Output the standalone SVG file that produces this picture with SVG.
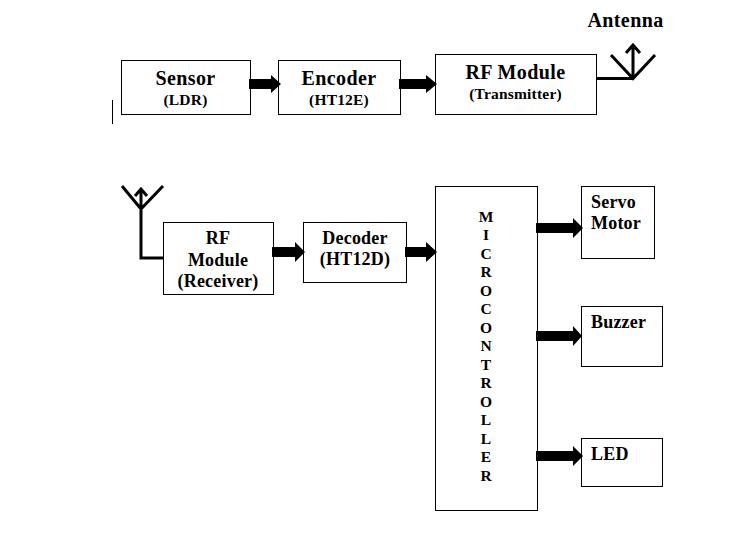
<svg xmlns="http://www.w3.org/2000/svg" width="736" height="544" viewBox="0 0 736 544">
<style>
rect{fill:#fff;stroke:#000;stroke-width:1}
text{font-family:"Liberation Serif","Times New Roman",serif;font-weight:bold;fill:#000;text-anchor:middle}
.a{font-size:20px;letter-spacing:.4px}
.b{font-size:15.500px;letter-spacing:.2px}
.c{font-size:18px;letter-spacing:.2px}
.m{font-size:15.500px}
.l{text-anchor:start}
.ant{fill:none;stroke:#000;stroke-width:3}
.ar{fill:#000;stroke:none}
</style>
<rect width="736" height="544" style="fill:#fff;stroke:none"/>
<g id="sensor"><rect x="121.500" y="60.500" width="129" height="54"/><text class="a" x="185.500" y="85">Sensor</text><text class="b" x="185.500" y="105">(LDR)</text></g>
<g id="encoder"><rect x="278.500" y="60.500" width="122" height="54"/><text class="a" x="339" y="85">Encoder</text><text class="b" x="339" y="105">(HT12E)</text></g>
<g id="rf-transmitter"><rect x="435.500" y="54.500" width="161" height="60"/><text class="a" x="515.500" y="79">RF Module</text><text class="b" x="515.500" y="99">(Transmitter)</text></g>
<g id="antenna-label"><text class="a" x="625.500" y="27">Antenna</text></g>
<g id="rf-receiver"><rect x="163.500" y="222.500" width="110" height="72"/><text class="c" x="218" y="244">RF</text><text class="c" x="218" y="266">Module</text><text class="c" x="218" y="287">(Receiver)</text></g>
<g id="decoder"><rect x="303.500" y="222.500" width="103" height="60"/><text class="c" x="355" y="244">Decoder</text><text class="c" x="355" y="265">(HT12D)</text></g>
<g id="microcontroller"><rect x="435.500" y="186.500" width="102" height="324"/>
<text class="m" x="486" y="222">M</text><text class="m" x="486" y="240">I</text><text class="m" x="486" y="259">C</text><text class="m" x="486" y="277">R</text><text class="m" x="486" y="296">O</text><text class="m" x="486" y="314">C</text><text class="m" x="486" y="333">O</text><text class="m" x="486" y="351">N</text><text class="m" x="486" y="370">T</text><text class="m" x="486" y="388">R</text><text class="m" x="486" y="407">O</text><text class="m" x="486" y="425">L</text><text class="m" x="486" y="444">L</text><text class="m" x="486" y="462">E</text><text class="m" x="486" y="481">R</text></g>
<g id="servo"><rect x="581.500" y="186.500" width="73" height="72"/><text class="c l" x="591" y="208">Servo</text><text class="c l" x="591" y="229">Motor</text></g>
<g id="buzzer"><rect x="581.500" y="306.500" width="81" height="60"/><text class="c l" x="591" y="328">Buzzer</text></g>
<g id="led"><rect x="581.500" y="438.500" width="81" height="48"/><text class="c l" x="591" y="460">LED</text></g>
<g id="connectors">
<path class="ar" d="M249 79h22v-4l10 9-10 9v-4h-22z"/>
<path class="ar" d="M399 79h27v-4l11 9-11 9v-4h-27z"/>
<path class="ar" d="M272 247h23v-5l10 10-10 10v-5h-23z"/>
<path class="ar" d="M405 247h21v-5l11 10-11 10v-5h-21z"/>
<path class="ar" d="M536 223h37v-5l10 10-10 10v-5h-37z"/>
<path class="ar" d="M536 331h37v-5l9 10-9 10v-5h-37z"/>
<path class="ar" d="M536 451h37v-5l10 10-10 10v-5h-37z"/>
<path class="ant" d="M597 78.500H633M611 55L633 78.500L655 55M633 78V45M626 53L633 45L640 53"/>
<path class="ant" d="M164 258H141V210M122 186L141 209L163 186M141 209V189M135 196L141 189L147 196"/>
<path d="M112.500 100V124" fill="none" stroke="#000" stroke-width="1"/>
</g>
</svg>
